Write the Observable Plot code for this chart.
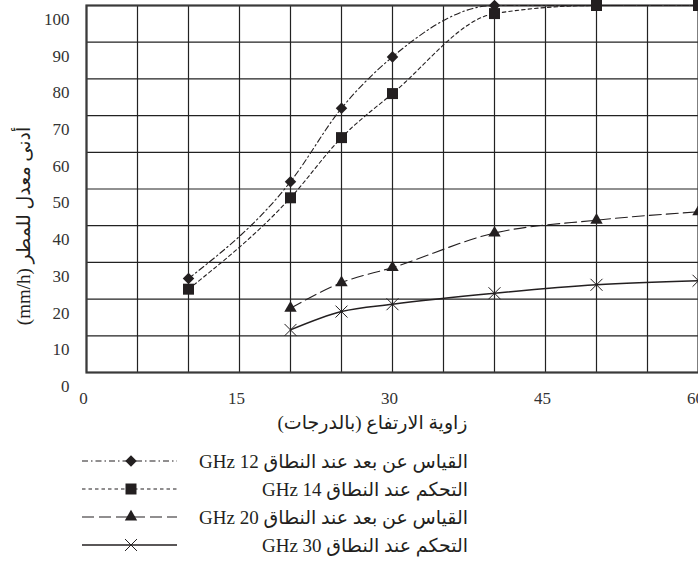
<!DOCTYPE html>
<html>
<head>
<meta charset="utf-8">
<script src="https://cdn.jsdelivr.net/npm/d3@7"></script>
<script src="https://cdn.jsdelivr.net/npm/@observablehq/plot@0.6"></script>
<style>
  html, body { margin: 0; padding: 0; background: #fff; }
  svg { display: block; }
</style>
</head>
<body>
<div id="chart"></div>
<script>
// ---- data ----
const anglesA = [10, 20, 25, 30, 40, 50, 60];
const ghz12 = [25.6, 52, 72, 86, 100, 100, 100];
const ghz14 = [22.7, 47.6, 64, 76, 97.8, 100, 100];
const anglesB = [20, 25, 30, 40, 50, 60];
const ghz20 = [17.5, 24.5, 28.6, 38, 41.5, 43.8];
const ghz30 = [11.6, 16.6, 18.6, 21.6, 23.9, 25];
const seriesLabels = [
  "القياس عن بعد عند النطاق 12 GHz",
  "التحكم عند النطاق 14 GHz",
  "القياس عن بعد عند النطاق 20 GHz",
  "التحكم عند النطاق 30 GHz"
];
const xTickLabels = [0, 15, 30, 45, 60];
const xGrid = [0, 5, 10, 15, 20, 25, 30, 35, 40, 45, 50, 55, 60];
const yTickLabels = [0, 10, 20, 30, 40, 50, 60, 70, 80, 90, 100];
const xTitle = "زاوية الارتفاع (بالدرجات)";
const yTitle = "أدنى معدل للمطر (mm/h)";

// ---- build ----
const rtl = s => "\u202B" + s + "\u202C";
const font = "'Liberation Serif', 'DejaVu Sans', serif";
const ink = "#231f20";

const d12 = anglesA.map((x, i) => ({x, y: ghz12[i]}));
const d14 = anglesA.map((x, i) => ({x, y: ghz14[i]}));
const d20 = anglesB.map((x, i) => ({x, y: ghz20[i]}));
const d30 = anglesB.map((x, i) => ({x, y: ghz30[i]}));

const styles = [
  {data: d12, dash: "6,3,1.5,3", symbol: "diamond2", r: 5.2, fill: ink, stroke: "none"},
  {data: d14, dash: "3.5,3", symbol: "square", r: 6.2, fill: ink, stroke: "none"},
  {data: d20, dash: "12,5", symbol: "triangle", r: 4.6, fill: ink, stroke: "none"},
  {data: d30, dash: null, symbol: "times", r: 5.5, fill: "none", stroke: ink}
];

const marks = [
  Plot.ruleX(xGrid, {stroke: "#222", strokeWidth: 1.2}),
  Plot.ruleY(yTickLabels, {stroke: "#222", strokeWidth: 1.2}),
  Plot.frame({stroke: "#3a3a3a", strokeWidth: 2.2}),
  Plot.axisX(xTickLabels, {tickSize: 0, tickPadding: 19, dx: -3, fontSize: 17, label: null, fill: "#333"}),
  Plot.axisY(yTickLabels, {tickSize: 0, tickPadding: 17, dy: 14, fontSize: 17, label: null, fill: "#333"}),
  Plot.text([rtl(xTitle)], {frameAnchor: "bottom", textAnchor: "middle", dx: -20, dy: 56, fontSize: 19, fill: ink}),
  Plot.text([rtl(yTitle)], {frameAnchor: "left", textAnchor: "middle", rotate: -90, dx: -63, dy: 37, fontSize: 19, fill: ink})
];
styles.forEach(s => {
  marks.push(Plot.line(s.data, {x: "x", y: "y", curve: "monotone-x", stroke: ink, strokeWidth: s.dash ? 1.1 : 1.5, strokeDasharray: s.dash || undefined}));
});
styles.forEach(s => {
  marks.push(Plot.dot(s.data, {x: "x", y: "y", symbol: () => s.symbol, r: s.r, fill: s.fill, stroke: s.stroke, strokeWidth: 1}));
});

const plot = Plot.plot({
  width: 698,
  height: 445,
  marginLeft: 86,
  marginRight: 0,
  marginTop: 5,
  marginBottom: 73,
  style: {fontFamily: font, background: "#fff", overflow: "hidden"},
  x: {domain: [0, 60], axis: null},
  y: {domain: [0, 100], axis: null},
  symbol: {type: "identity"},
  marks
});
document.getElementById("chart").appendChild(plot);

// ---- legend below ----
const symMap = {diamond2: d3.symbolDiamond2, square: d3.symbolSquare, triangle: d3.symbolTriangle, times: d3.symbolTimes};
const legend = d3.create("svg")
  .attr("width", 698).attr("height", 117)
  .style("font-family", font);
seriesLabels.forEach((label, i) => {
  const s = styles[i];
  const y = 16 + i * 28;
  legend.append("line")
    .attr("x1", 82).attr("x2", 177).attr("y1", y).attr("y2", y)
    .attr("stroke", ink).attr("stroke-width", s.dash ? 1.1 : 1.5)
    .attr("stroke-dasharray", s.dash);
  legend.append("path")
    .attr("transform", `translate(131,${y})`)
    .attr("d", d3.symbol(symMap[s.symbol], Math.PI * s.r * s.r)())
    .attr("fill", s.fill === "none" ? "none" : ink)
    .attr("stroke", s.stroke === "none" ? "none" : ink)
    .attr("stroke-width", 1);
  legend.append("text")
    .attr("x", 468).attr("y", y).attr("dy", "0.35em")
    .attr("text-anchor", "end")
    .attr("font-size", 19)
    .attr("fill", ink)
    .text(rtl(label));
});
document.getElementById("chart").appendChild(legend.node());
</script>
</body>
</html>
